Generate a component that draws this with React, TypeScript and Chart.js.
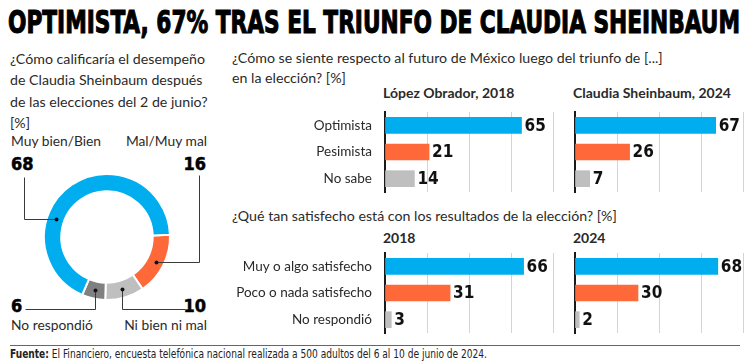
import React, { useEffect, useLayoutEffect, useRef } from "react";
import { Chart, registerables } from "chart.js";

Chart.register(...registerables);

// ---------- data ----------
const TITLE = "OPTIMISTA, 67% TRAS EL TRIUNFO DE CLAUDIA SHEINBAUM";
const Q_LEFT = [
  "¿Cómo calificaría el desempeño",
  "de Claudia Sheinbaum después",
  "de las elecciones del 2 de junio?",
  "[%]",
];
const DONUT_LABELS = ["Mal/Muy mal", "Ni bien ni mal", "No respondió", "Muy bien/Bien"];
const DONUT_VALUES = [16, 10, 6, 68];
const DONUT_COLORS = ["#FF6838", "#BFBFBF", "#808080", "#00AEEF"];

const Q_FUTURE = [
  "¿Cómo se siente respecto al futuro de México luego del triunfo de [...]",
  "en la elección? [%]",
];
const FUTURE_HEADS = ["López Obrador, 2018", "Claudia Sheinbaum, 2024"];
const FUTURE_CATS = ["Optimista", "Pesimista", "No sabe"];
const FUTURE_2018 = [65, 21, 14];
const FUTURE_2024 = [67, 26, 7];

const Q_SATIS = "¿Qué tan satisfecho está con los resultados de la elección? [%]";
const SATIS_HEADS = ["2018", "2024"];
const SATIS_CATS = ["Muy o algo satisfecho", "Poco o nada satisfecho", "No respondió"];
const SATIS_2018 = [66, 31, 3];
const SATIS_2024 = [68, 30, 2];

const BAR_COLORS = ["#00AEEF", "#FF6838", "#BFBFBF"];
const X_MAX = 80;
const X_STEP = 20;

const SOURCE_BOLD = "Fuente:";
const SOURCE_TEXT =
  " El Financiero, encuesta telefónica nacional realizada a 500 adultos del 6 al 10 de junio de 2024.";

// ---------- styles ----------
const LATO = 'Lato, "Open Sans", sans-serif';
const NARROW = '"Liberation Sans Narrow", "DejaVu Sans Condensed", "Arial Narrow", sans-serif';
const TEXT = "#2a2a2a";
const LATO_M = { asc: 0.987, desc: 0.213 };
const LIB_M = { asc: 0.905, desc: 0.212 };

type TP = {
  x: number;
  y: number;
  size: number;
  bold?: boolean;
  family?: string;
  align?: "left" | "right";
  color?: string;
  m?: { asc: number; desc: number };
  fit?: number;
  stroke?: number;
  children: React.ReactNode;
};

function Txt({ x, y, size, bold, family = LATO, align = "left", color = TEXT, m = LATO_M, fit, stroke, children }: TP) {
  const ref = useRef<HTMLDivElement>(null);
  const L = Math.round(size * 1.3);
  const top = y - ((L - (m.asc + m.desc) * size) / 2 + m.asc * size);
  useLayoutEffect(() => {
    if (!fit || !ref.current) return;
    const el = ref.current;
    el.style.transform = "none";
    const w = el.getBoundingClientRect().width;
    if (w > 0) el.style.transform = `scaleX(${fit / w})`;
  }, [fit]);
  const style: React.CSSProperties = {
    position: "absolute",
    top,
    fontSize: size,
    lineHeight: `${L}px`,
    fontFamily: family,
    fontWeight: bold ? 700 : 400,
    color,
    whiteSpace: "nowrap",
    transformOrigin: align === "right" ? "right center" : "left center",
  };
  if (stroke) (style as any).WebkitTextStroke = `${stroke}px ${color}`;
  if (align === "right") style.right = 750 - x;
  else style.left = x;
  return (
    <div ref={ref} style={style}>
      {children}
    </div>
  );
}

// ---------- plugins ----------
const valueLabels = {
  id: "valueLabels",
  afterDatasetsDraw(chart: any) {
    const ctx = chart.ctx;
    const meta = chart.getDatasetMeta(0);
    const data = chart.data.datasets[0].data;
    ctx.save();
    ctx.font = `bold 17px ${NARROW}`;
    ctx.fillStyle = "#111";
    ctx.textBaseline = "middle";
    ctx.textAlign = "left";
    meta.data.forEach((bar: any, i: number) => {
      ctx.fillText(String(data[i]), bar.x + 3, bar.y + 1);
    });
    ctx.restore();
  },
};

// leader-line routing (annotation layout, canvas coords)
const LEADERS = [
  { frac: 0.5, mode: "hv", x: 199, y: 55 },
  { frac: 0.5, mode: "vh", x: 185, y: 189 },
  { frac: 0.5, mode: "vh", x: 25, y: 189 },
  { frac: 0.35, mode: "hv", x: 24, y: 57 },
];

const leaderLines = {
  id: "leaderLines",
  afterDraw(chart: any) {
    const ctx = chart.ctx;
    const meta = chart.getDatasetMeta(0);
    ctx.save();
    meta.data.forEach((arc: any, i: number) => {
      const L = LEADERS[i];
      if (!L) return;
      const a = arc.startAngle + L.frac * (arc.endAngle - arc.startAngle);
      const r = (arc.innerRadius + arc.outerRadius) / 2;
      const dx = Math.round(arc.x + r * Math.cos(a)) + 0.5;
      const dy = Math.round(arc.y + r * Math.sin(a)) + 0.5;
      ctx.strokeStyle = "#3a3a3a";
      ctx.lineWidth = 1;
      ctx.beginPath();
      ctx.moveTo(dx, dy);
      if (L.mode === "hv") {
        ctx.lineTo(L.x + 0.5, dy);
        ctx.lineTo(L.x + 0.5, L.y + 0.5);
      } else {
        ctx.lineTo(dx, L.y + 0.5);
        ctx.lineTo(L.x + 0.5, L.y + 0.5);
      }
      ctx.stroke();
      ctx.fillStyle = "#111";
      ctx.beginPath();
      ctx.arc(dx, dy, 2, 0, Math.PI * 2);
      ctx.fill();
    });
    ctx.restore();
  },
};

// ---------- charts ----------
type BP = {
  cats: string[];
  values: number[];
  showCats: boolean;
  left: number;
  top: number;
  width: number;
  height: number;
  axisW: number;
  pad: { top: number; bottom: number; right: number; left: number };
};

function BarChart({ cats, values, showCats, left, top, width, height, axisW, pad }: BP) {
  const ref = useRef<HTMLCanvasElement>(null);
  useEffect(() => {
    const chart = new Chart(ref.current as HTMLCanvasElement, {
      type: "bar",
      data: {
        labels: cats,
        datasets: [{ data: values, backgroundColor: BAR_COLORS, borderWidth: 0, barThickness: 16 }],
      },
      options: {
        indexAxis: "y",
        animation: false,
        responsive: false,
        maintainAspectRatio: false,
        layout: { padding: pad },
        plugins: { legend: { display: false }, tooltip: { enabled: false } },
        scales: {
          x: {
            min: 0,
            max: X_MAX,
            ticks: { display: false, stepSize: X_STEP },
            grid: { color: "#d4d4d4", lineWidth: 1, drawTicks: false },
            border: { display: false },
            afterFit: (s: any) => {
              s.height = 0;
              s.paddingLeft = 0;
              s.paddingRight = 0;
            },
          },
          y: {
            ticks: { display: showCats, color: TEXT, font: { family: LATO, size: 13.5 }, padding: 13 },
            grid: { display: false, drawTicks: false },
            border: { display: true, color: "#1a1a1a", width: 2 },
            afterFit: (s: any) => {
              s.width = axisW;
              s.paddingTop = 0;
              s.paddingBottom = 0;
            },
          },
        },
      } as any,
      plugins: [valueLabels],
    });
    return () => chart.destroy();
  }, []);
  return (
    <canvas
      ref={ref}
      width={width}
      height={height}
      style={{ position: "absolute", left, top, width, height }}
    />
  );
}

function Donut() {
  const ref = useRef<HTMLCanvasElement>(null);
  useEffect(() => {
    const chart = new Chart(ref.current as HTMLCanvasElement, {
      type: "doughnut",
      data: {
        labels: DONUT_LABELS,
        datasets: [
          {
            data: DONUT_VALUES,
            backgroundColor: DONUT_COLORS,
            borderColor: "#ffffff",
            borderWidth: 2,
            hoverOffset: 0,
          },
        ],
      },
      options: {
        animation: false,
        responsive: false,
        maintainAspectRatio: false,
        rotation: 88,
        radius: 63,
        cutout: 45,
        layout: { padding: { left: 44, right: 45, top: 54, bottom: 40 } },
        plugins: { legend: { display: false }, tooltip: { enabled: false } },
      } as any,
      plugins: [leaderLines],
    });
    return () => chart.destroy();
  }, []);
  return (
    <canvas ref={ref} width={215} height={220} style={{ position: "absolute", left: 0, top: 120, width: 215, height: 220 }} />
  );
}

export default function App() {
  return (
    <div
      style={{
        position: "absolute",
        left: 0,
        top: 0,
        width: 750,
        height: 363,
        background: "#fff",
        overflow: "hidden",
        fontFamily: LATO,
      }}
    >
      <Txt x={8} y={33} size={32} bold family={NARROW} m={LIB_M} color="#000" fit={732} stroke={1.1}>
        {TITLE}
      </Txt>

      {Q_LEFT.map((t, i) => (
        <Txt key={i} x={10} y={64 + i * 21.5} size={14.2}>
          {t}
        </Txt>
      ))}

      <Txt x={11} y={146} size={13.8}>
        {DONUT_LABELS[3]}
      </Txt>
      <Txt x={207} y={146} size={13.8} align="right">
        {DONUT_LABELS[0]}
      </Txt>
      <Txt x={11} y={170} size={18} bold family={NARROW} m={LIB_M} color="#000" stroke={0.5}>
        {DONUT_VALUES[3]}
      </Txt>
      <Txt x={206} y={170} size={18} bold family={NARROW} m={LIB_M} color="#000" align="right" stroke={0.5}>
        {DONUT_VALUES[0]}
      </Txt>
      <Txt x={11} y={312} size={18} bold family={NARROW} m={LIB_M} color="#000" stroke={0.5}>
        {DONUT_VALUES[2]}
      </Txt>
      <Txt x={206} y={312} size={18} bold family={NARROW} m={LIB_M} color="#000" align="right" stroke={0.5}>
        {DONUT_VALUES[1]}
      </Txt>
      <Txt x={11} y={330} size={13.8}>
        {DONUT_LABELS[2]}
      </Txt>
      <Txt x={207} y={330} size={13.8} align="right">
        {DONUT_LABELS[1]}
      </Txt>

      <Donut />

      {Q_FUTURE.map((t, i) => (
        <Txt key={i} x={232} y={63 + i * 20} size={14.2}>
          {t}
        </Txt>
      ))}
      <Txt x={383} y={98} size={14} bold>
        {FUTURE_HEADS[0]}
      </Txt>
      <Txt x={573} y={98} size={14} bold>
        {FUTURE_HEADS[1]}
      </Txt>

      <BarChart
        cats={FUTURE_CATS}
        values={FUTURE_2018}
        showCats
        left={220}
        top={100}
        width={340}
        height={100}
        axisW={165}
        pad={{ top: 12, bottom: 8, right: 7, left: 0 }}
      />
      <BarChart
        cats={FUTURE_CATS}
        values={FUTURE_2024}
        showCats={false}
        left={562}
        top={100}
        width={188}
        height={100}
        axisW={13}
        pad={{ top: 12, bottom: 8, right: 7, left: 0 }}
      />

      <Txt x={232} y={221} size={14.2}>
        {Q_SATIS}
      </Txt>
      <Txt x={383} y={243} size={14} bold>
        {SATIS_HEADS[0]}
      </Txt>
      <Txt x={573} y={243} size={14} bold>
        {SATIS_HEADS[1]}
      </Txt>

      <BarChart
        cats={SATIS_CATS}
        values={SATIS_2018}
        showCats
        left={220}
        top={245}
        width={340}
        height={95}
        axisW={165}
        pad={{ top: 8, bottom: 7, right: 7, left: 0 }}
      />
      <BarChart
        cats={SATIS_CATS}
        values={SATIS_2024}
        showCats={false}
        left={562}
        top={245}
        width={188}
        height={95}
        axisW={13}
        pad={{ top: 8, bottom: 7, right: 7, left: 0 }}
      />

      <div style={{ position: "absolute", left: 10, top: 345, width: 730, height: 1, background: "#666" }} />
      <Txt x={10} y={358} size={12} family={NARROW} m={LIB_M} color="#222" fit={477}>
        <b>{SOURCE_BOLD}</b>
        {SOURCE_TEXT}
      </Txt>
    </div>
  );
}
